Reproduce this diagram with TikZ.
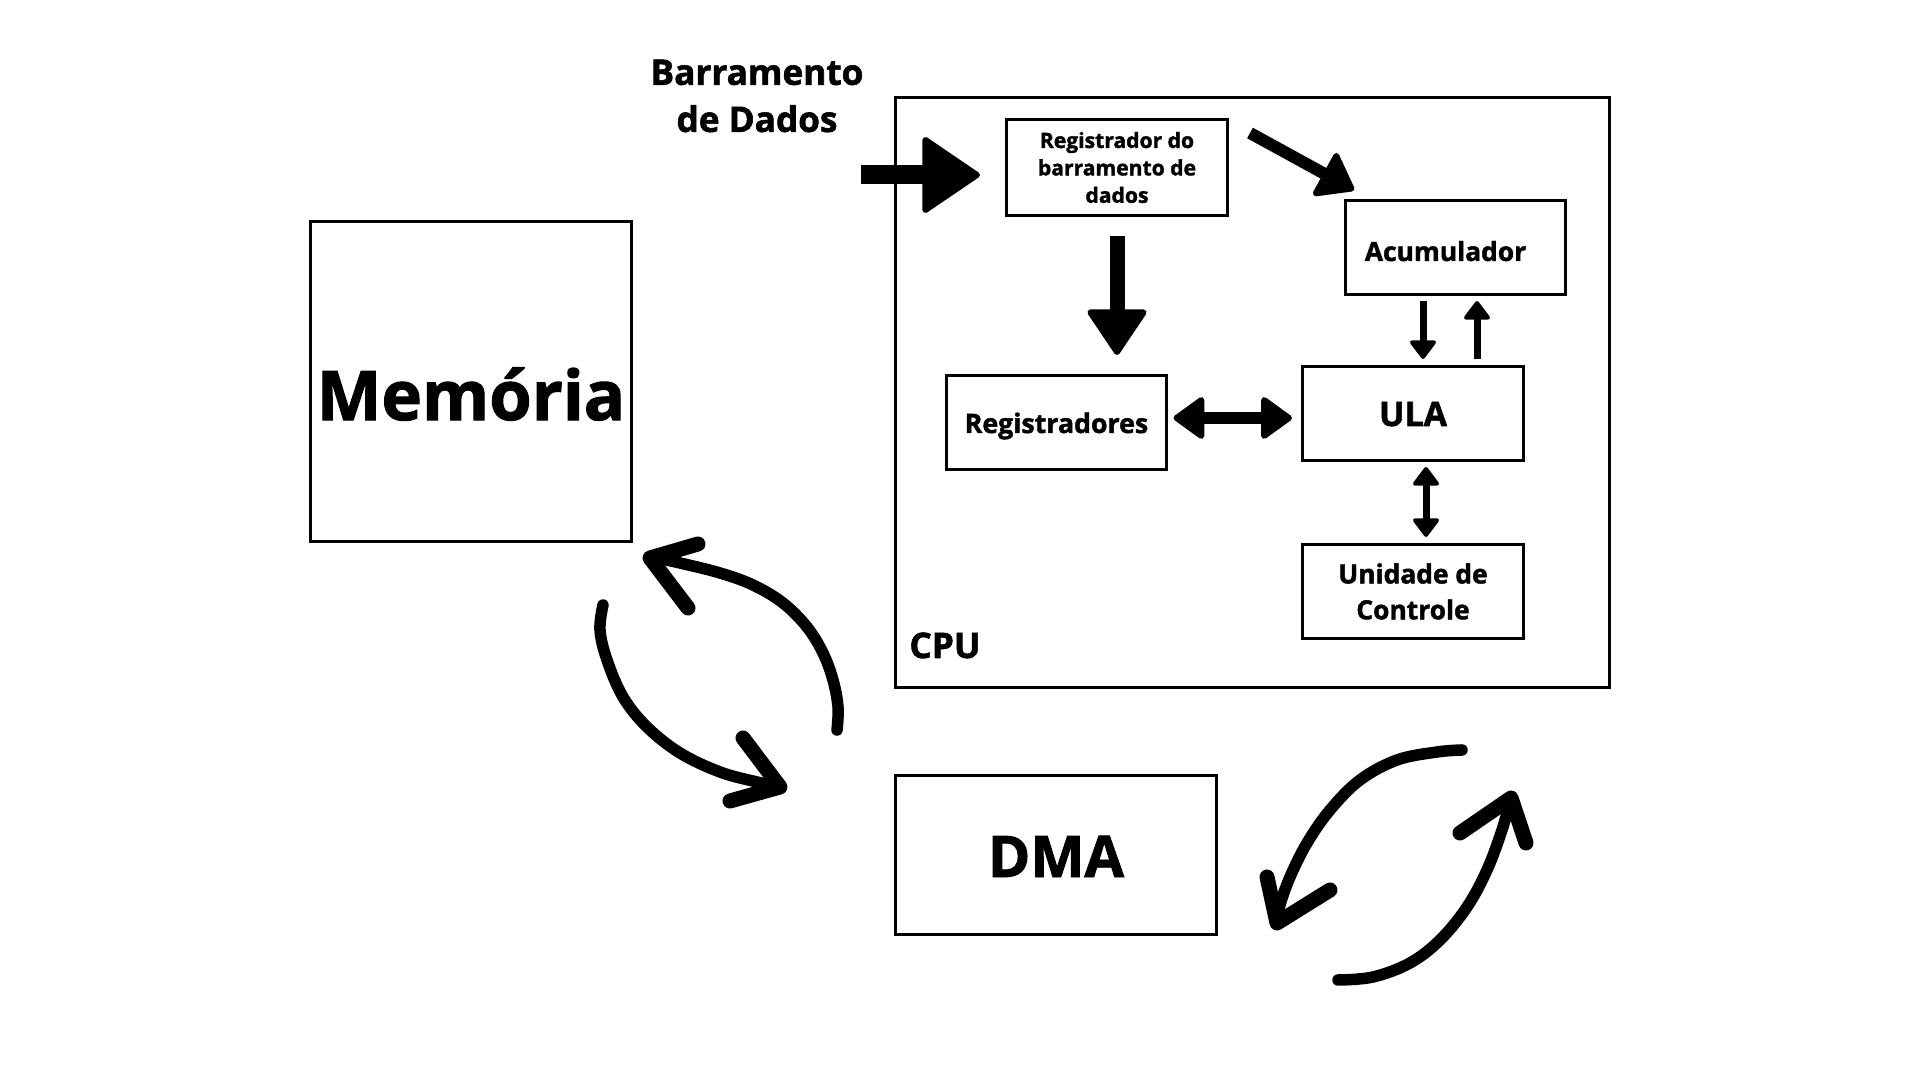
\documentclass[tikz,border=0pt]{standalone}
\usepackage{fontspec}
\setmainfont{Open Sans}[BoldFeatures={FakeBold=1.6}]
\usetikzlibrary{arrows.meta,calc}
\begin{document}
\begin{tikzpicture}[x=0.01cm,y=-0.01cm,
  box/.style={draw, line width=0.3mm, inner sep=0pt, outer sep=0pt, align=center, font=\bfseries},
  small/.style={minimum width=22mm, minimum height=9.3mm},
  lbl/.style={inner sep=0pt, outer sep=0pt, align=center, font=\bfseries},
  busarr/.style={line width=1.9mm, -{Triangle[length=6.0mm, width=8.0mm, round, line width=0.6mm]}},
  downarr/.style={line width=1.5mm, -{Triangle[length=4.8mm, width=6.3mm, round, line width=0.6mm]}},
  diagarr/.style={line width=1.2mm, -{Triangle[length=3.7mm, width=5.3mm, round, line width=0.6mm]}},
  dblarr/.style={line width=1.2mm, {Triangle[length=3.3mm, width=4.6mm, round, line width=0.6mm]}-{Triangle[length=3.3mm, width=4.6mm, round, line width=0.6mm]}},
  smallarr/.style={line width=0.7mm, -{Triangle[length=2.0mm, width=2.9mm, round, line width=0.4mm]}},
  smalldbl/.style={line width=0.7mm, {Triangle[length=2.0mm, width=2.9mm, round, line width=0.4mm]}-{Triangle[length=2.0mm, width=2.9mm, round, line width=0.4mm]}},
  hand/.style={line width=1.15mm, line cap=round, line join=round},
  barb/.style={line width=1.5mm, line cap=round, line join=round}
]
\fill[white] (0,0) rectangle (1920,1080);
\useasboundingbox (0,0) rectangle (1920,1080);

% labels outside boxes
\node[lbl, font=\bfseries\fontsize{10pt}{13.4pt}\selectfont] (bus) at (757,96) {Barramento\\de Dados};

% boxes
\node[box, minimum width=71.3mm, minimum height=59mm] (cpu) at (1252.5,392.5) {};
\node[lbl, anchor=base, font=\bfseries\fontsize{10pt}{12pt}\selectfont] (cpulbl) at (945,658) {CPU};

\node[box, minimum width=22mm, minimum height=9.5mm, font=\bfseries\fontsize{6pt}{7.8pt}\selectfont] (regbus) at (1117,167.5) {Registrador do\\barramento de\\dados};
\node[box, small, text height=2.7mm, text depth=0pt, font=\bfseries\fontsize{7.5pt}{9pt}\selectfont] (acc) at (1455.5,247.5) {Acumulador\hspace*{2mm}};
\node[box, small, text height=2.1mm, text depth=0pt, font=\bfseries\fontsize{7.6pt}{9pt}\selectfont] (regs) at (1056.5,422.5) {Registradores};
\node[box, small, text height=2.5mm, text depth=0pt, font=\bfseries\fontsize{9.6pt}{11pt}\selectfont] (ula) at (1413,413.5) {ULA};
\node[box, small, font=\bfseries\fontsize{7.5pt}{10.2pt}\selectfont] (uc) at (1413,591.5) {Unidade de\\Controle};
\node[box, minimum width=32mm, minimum height=31.9mm, text height=7.7mm, text depth=0pt, font=\bfseries\fontsize{19.5pt}{22pt}\selectfont] (mem) at (471,381.5) {Memória};
\node[box, minimum width=32mm, minimum height=15.8mm, text height=4.4mm, text depth=0pt, font=\bfseries\fontsize{16.3pt}{19pt}\selectfont] (dma) at (1056,855) {DMA};

% straight connectors
\coordinate (busin) at (861,175);
\draw[busarr, shorten >=2.7mm] (busin) -- (busin -| regbus.west);
\draw[downarr, shorten <=2.1mm, shorten >=2.1mm] (regbus.south) -- (regbus.south |- regs.north);
\coordinate (d1) at (1250,133);
\coordinate (d2) at (1354,190);
\draw[diagarr] (d1) -- (d2);
\coordinate (ry) at (0,418);
\draw[dblarr, shorten <=0.7mm, shorten >=1.1mm] (regs.east |- ry) -- (ula.west |- ry);
\coordinate (xa) at (1423,0);
\coordinate (xb) at (1477,0);
\coordinate (xc) at (1426,0);
\draw[smallarr, shorten <=0.7mm, shorten >=0.8mm] (xa |- acc.south) -- (xa |- ula.north);
\draw[smallarr, shorten <=0.8mm, shorten >=0.7mm] (xb |- ula.north) -- (xb |- acc.south);
\draw[smalldbl, shorten <=0.7mm, shorten >=0.8mm] (xc |- ula.south) -- (xc |- uc.north);

% hand-drawn curved arrows: memory <-> DMA
\draw[hand] plot[smooth, tension=0.6] coordinates {(837,730) (838,707) (833,680) (823,653) (807,627) (783,603) (753,585) (720,573) (680,563) (652,557)};
\draw[barb] (698,544) -- (650,558) -- (688,608);
\draw[hand] plot[smooth, tension=0.6] coordinates {(603,605) (600,630) (607,660) (623,697) (647,727) (680,753) (720,772) (757,782) (780,787)};
\draw[barb] (743,738) -- (780,787) -- (730,801);

% hand-drawn curved arrows: DMA <-> CPU
\draw[hand] plot[smooth, tension=0.6] coordinates {(1462,750) (1437,752) (1397,760) (1360,780) (1330,810) (1307,843) (1290,877) (1280,905) (1277,923)};
\draw[barb] (1267,877) -- (1277,923) -- (1330,890);
\draw[hand] plot[smooth, tension=0.6] coordinates {(1338,980) (1373,977) (1410,963) (1440,940) (1467,907) (1487,870) (1502,830) (1511,798)};
\draw[barb] (1460,833) -- (1511,798) -- (1526,843);
\end{tikzpicture}
\end{document}
